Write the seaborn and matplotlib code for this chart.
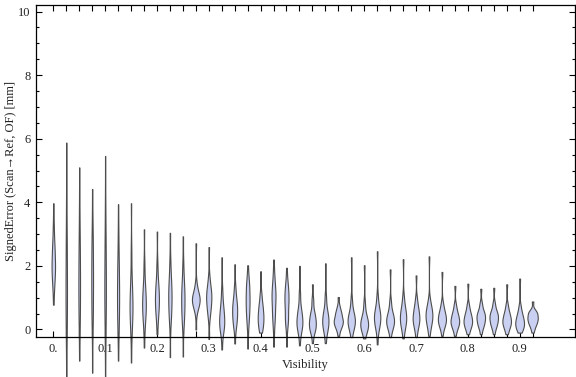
import numpy as np
import pandas as pd
import seaborn as sns
import matplotlib.pyplot as plt
from matplotlib.ticker import MultipleLocator, FixedLocator

# Visibility bins (one violin each)
vis = [0.0, 0.025, 0.05, 0.075, 0.1, 0.125, 0.15, 0.175, 0.2, 0.225,
       0.25, 0.275, 0.3, 0.325, 0.35, 0.375, 0.4, 0.425, 0.45, 0.475,
       0.5, 0.525, 0.55, 0.575, 0.6, 0.625, 0.65, 0.675, 0.7, 0.725,
       0.75, 0.775, 0.8, 0.825, 0.85, 0.875, 0.9, 0.925]

# Signed error quantiles per bin [mm]
err_min = [0.78, -1.48, -0.98, -1.36, -1.5, -0.98, -1.04, -0.57, -0.15, -0.87,
           -0.85, 0.0, -0.3, -0.63, -0.44, -0.6, -0.1, -0.54, -0.54, -0.5,
           -0.43, -0.43, -0.2, -0.24, -0.28, -0.47, -0.24, -0.28, -0.24, -0.2,
           -0.2, -0.2, -0.15, -0.15, -0.15, -0.15, -0.1, -0.1]
err_p10 = [1.3, -0.3, 0.0, 0.0, -0.3, -0.1, -0.1, 0.1, 0.3, 0.2,
           0.1, 0.6, 0.4, -0.1, 0.05, 0.1, 0.0, 0.1, 0.1, -0.1,
           -0.1, -0.1, 0.0, 0.0, -0.05, 0.0, 0.0, 0.0, 0.0, 0.05,
           0.05, 0.0, 0.0, 0.05, 0.05, 0.0, 0.0, 0.05]
err_q1 = [1.7, 0.5, 0.7, 0.7, 0.6, 0.5, 0.4, 0.5, 0.65, 0.6,
          0.5, 0.8, 0.7, 0.1, 0.3, 0.5, 0.2, 0.5, 0.4, 0.1,
          0.05, 0.1, 0.15, 0.15, 0.05, 0.2, 0.15, 0.2, 0.2, 0.25,
          0.2, 0.15, 0.15, 0.2, 0.2, 0.15, 0.1, 0.2]
err_med = [2.1, 1.5, 1.6, 1.6, 1.5, 1.2, 0.8, 0.85, 1.0, 1.05,
           0.95, 0.95, 1.0, 0.35, 0.6, 0.9, 0.45, 0.95, 0.85, 0.3,
           0.25, 0.3, 0.3, 0.3, 0.2, 0.4, 0.3, 0.4, 0.4, 0.45,
           0.35, 0.3, 0.3, 0.38, 0.38, 0.3, 0.25, 0.35]
err_q3 = [2.6, 2.7, 2.6, 2.5, 2.6, 2.0, 1.4, 1.3, 1.4, 1.5,
          1.4, 1.1, 1.25, 0.7, 0.9, 1.3, 0.75, 1.3, 1.2, 0.6,
          0.5, 0.55, 0.5, 0.5, 0.4, 0.6, 0.5, 0.65, 0.65, 0.65,
          0.55, 0.5, 0.5, 0.55, 0.55, 0.5, 0.45, 0.5]
err_p90 = [3.2, 4.0, 3.7, 3.3, 3.8, 2.9, 2.4, 2.0, 2.0, 2.1,
           2.0, 1.4, 1.6, 1.2, 1.3, 1.6, 1.1, 1.7, 1.5, 1.1,
           0.9, 1.0, 0.7, 0.9, 0.8, 1.0, 0.85, 1.0, 0.95, 0.9,
           0.8, 0.75, 0.75, 0.8, 0.8, 0.75, 0.7, 0.6]
err_max = [3.97, 5.88, 5.1, 4.42, 5.46, 3.94, 3.97, 3.15, 3.08, 3.04,
           2.93, 2.71, 2.59, 2.27, 2.05, 2.02, 1.83, 2.2, 1.94, 2.0,
           1.42, 2.08, 1.02, 2.27, 2.02, 2.46, 1.89, 2.21, 1.7, 2.3,
           1.81, 1.37, 1.44, 1.28, 1.31, 1.42, 1.6, 0.88]

x_tick_pos = [0.0, 0.1, 0.2, 0.3, 0.4, 0.5, 0.6, 0.7, 0.8, 0.9]
x_tick_labels = ["0.", "0.1", "0.2", "0.3", "0.4", "0.5", "0.6", "0.7", "0.8", "0.9"]

# weight each quantile by the probability mass around it
q_cols = [err_min, err_p10, err_q1, err_med, err_q3, err_p90, err_max]
q_weight = [1, 2, 4, 5, 4, 2, 1]

rows = []
for i, v in enumerate(vis):
    for col, w in zip(q_cols, q_weight):
        for _ in range(w):
            rows.append((v, col[i]))
df = pd.DataFrame(rows, columns=["Visibility", "SignedError"])

sns.set_theme(style="ticks")
plt.rcParams["font.family"] = ["Liberation Serif", "DejaVu Serif"]

fig = plt.figure(figsize=(5.76, 3.77), dpi=100)
ax = fig.add_axes([0.0625, 0.105, 0.935, 0.882])

sns.violinplot(data=df, x="Visibility", y="SignedError", native_scale=True,
               cut=0, density_norm="area", inner=None, bw_adjust=0.7,
               width=0.8, color="#c9d0f2", saturation=1, linecolor="#4d4d4d",
               linewidth=0.8, ax=ax)
for c in ax.collections:
    c.set_clip_on(False)

ax.set_xlim(-0.0334, 1.006)
ax.set_ylim(-0.25, 10.21)

ax.xaxis.set_major_locator(FixedLocator(x_tick_pos))
ax.set_xticklabels(x_tick_labels)
ax.xaxis.set_minor_locator(FixedLocator(vis))
ax.yaxis.set_major_locator(MultipleLocator(2))
ax.yaxis.set_minor_locator(MultipleLocator(0.5))

ax.tick_params(axis="both", which="both", direction="in", top=True, right=True,
               colors="black", labelcolor="#222222", labelsize=9, width=0.8)
ax.tick_params(axis="x", which="both", length=4, pad=4)
ax.tick_params(axis="y", which="major", length=4, pad=4)
ax.tick_params(axis="y", which="minor", length=2)

for s in ax.spines.values():
    s.set_visible(True)
    s.set_color("black")
    s.set_linewidth(0.9)

ax.set_xlabel("Visibility", fontsize=9, color="#222222", labelpad=3)
ax.set_ylabel("SignedError (Scan\u2192Ref, OF) [mm]", fontsize=9,
              color="#222222")
ax.yaxis.set_label_coords(-0.036, 0.5)

fig.savefig("out.png", dpi=100)
